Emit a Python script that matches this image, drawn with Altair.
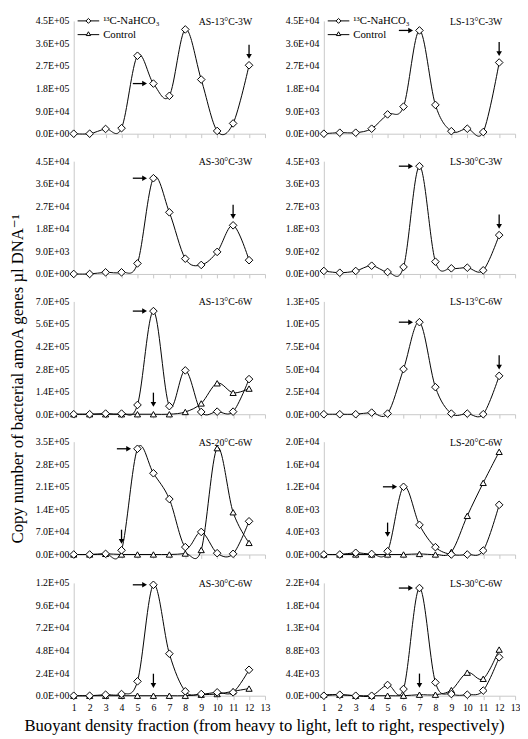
import altair as alt
import pandas as pd

FONT = "Liberation Serif, Times New Roman, DejaVu Serif, serif"
AXC = "#c8c8c8"
W, H = 195, 115

fractions = list(range(1, 13))
x_ticks = list(range(1, 14))

titles = ["AS-13°C-3W", "LS-13°C-3W", "AS-30°C-3W", "LS-30°C-3W", "AS-13°C-6W",
          "LS-13°C-6W", "AS-20°C-6W", "LS-20°C-6W", "AS-30°C-6W", "LS-30°C-6W"]
y_tops = [4.5e5, 4.5e4, 4.5e4, 4.5e3, 7.0e5, 1.25e5, 3.5e5, 2.0e4, 1.2e5, 2.2e4]

# 13C-NaHCO3 series (diamonds)
c13_as13_3w = [0, 0, 1.9e4, 2.2e4, 3.11e5, 2.0e5, 1.51e5, 4.16e5, 2.16e5, 1.1e4, 4.1e4, 2.73e5]
c13_ls13_3w = [0, 400, 400, 2.0e3, 7.7e3, 1.08e4, 4.12e4, 1.15e4, 1.0e3, 2.0e3, 650, 2.84e4]
c13_as30_3w = [0, 0, 650, 650, 4.2e3, 3.82e4, 2.46e4, 6.1e3, 3.6e3, 8.8e3, 1.94e4, 5.5e3]
c13_ls30_3w = [120, 50, 120, 330, 80, 280, 4.3e3, 490, 225, 250, 145, 1.55e3]
c13_as13_6w = [0, 0, 4e3, 4e3, 5.75e4, 6.4e5, 5.0e4, 2.72e5, 1.4e4, 1.6e4, 1.6e4, 2.18e5]
c13_ls13_6w = [0, 0, 0, 1.8e3, 700, 5.0e4, 1.02e5, 3.0e4, 700, 700, 0, 4.25e4]
c13_as20_6w = [0, 0, 2e3, 1.3e4, 3.28e5, 2.52e5, 1.72e5, 2.3e4, 7.0e4, 4e3, 2e3, 1.03e5]
c13_ls20_6w = [0, 0, 300, 100, 570, 1.2e4, 5.25e3, 1.3e3, 0, 0, 700, 8.8e3]
c13_as30_6w = [0, 0, 1.1e3, 1.8e3, 1.53e4, 1.18e5, 4.47e4, 4.7e3, 1.8e3, 3.6e3, 3.6e3, 2.76e4]
c13_ls30_6w = [0, 200, 0, 0, 2.1e3, 1.3e3, 2.1e4, 2.6e3, 330, 200, 1.0e3, 7.5e3]

# Control series (triangles)
ctrl_as13_6w = [0, 0, 0, 0, 0, 0, 0, 1.4e4, 6.7e4, 1.92e5, 1.33e5, 1.59e5]
ctrl_as20_6w = [0, 0, 2e3, 0, 0, 0, 0, 3e3, 1.4e4, 3.3e5, 1.31e5, 3.6e4]
ctrl_ls20_6w = [0, 0, 0, 0, 0, 0, 100, 0, 450, 6.85e3, 1.27e4, 1.82e4]
ctrl_as30_6w = [0, 0, 0, 0, 0, 0, 0, 0, 1.1e3, 1.8e3, 4.7e3, 7.6e3]
ctrl_ls30_6w = [200, 200, 0, 0, 0, 0, 200, 200, 1.1e3, 4.5e3, 3.3e3, 9.0e3]

c13_series = [c13_as13_3w, c13_ls13_3w, c13_as30_3w, c13_ls30_3w, c13_as13_6w,
              c13_ls13_6w, c13_as20_6w, c13_ls20_6w, c13_as30_6w, c13_ls30_6w]
ctrl_series = [None, None, None, None, ctrl_as13_6w,
               None, ctrl_as20_6w, ctrl_ls20_6w, ctrl_as30_6w, ctrl_ls30_6w]

# arrow targets
right_arrow_x = [6, 7, 6, 7, 6, 7, 5, 6, 6, 7]
right_arrow_y = [2.0e5, 4.12e4, 3.82e4, 4.3e3, 6.4e5, 1.02e5, 3.28e5, 1.2e4, 1.18e5, 2.1e4]
down_arrow_x = [12, 12, 11, 12, 6, 12, 4, 5, 6, 7]
down_arrow_y = [2.73e5, 2.84e4, 1.94e4, 1.55e3, 6e3, 4.25e4, 1.3e4, 2.0e3, 1.5e3, 300]

legend_labels = ["¹³C-NaHCO₃", "Control"]
LEXPR = "replace(replace(format(datum.value, '.1e'), 'e+', 'E+0'), 'e-', 'E-0')"
YTITLE = "Copy number of bacterial amoA genes µl DNA⁻¹"
XTITLE = "Buoyant density fraction (from heavy to light, left to right, respectively)"


def make_panel(i):
    top = y_tops[i]
    bottom = i >= 8
    xaxis = dict(values=x_ticks, labels=bottom, title=None, grid=False, tickSize=4,
                 tickColor=AXC, domainColor=AXC, labelFont=FONT, labelFontSize=10,
                 labelColor="black", labelFlush=False, labelOverlap=False, labelPadding=3)
    yaxis = dict(values=[top * k / 5 for k in range(6)], labelExpr=LEXPR, ticks=False,
                 grid=False, domainColor=AXC, labelFont=FONT, labelFontSize=10,
                 labelColor="black", labelPadding=5, labelFlush=False, labelOverlap=False,
                 title=None)
    xenc = alt.X("fraction:Q", scale=alt.Scale(domain=[1, 13], nice=False, zero=False),
                 axis=alt.Axis(**xaxis))
    yenc = alt.Y("value:Q", scale=alt.Scale(domain=[0, top], nice=False),
                 axis=alt.Axis(**yaxis))

    df13 = pd.DataFrame({"fraction": fractions, "value": c13_series[i]})
    layers = [
        alt.Chart(df13).mark_line(interpolate="cardinal", color="black", strokeWidth=1)
        .encode(x=xenc, y=yenc)
    ]
    if ctrl_series[i] is not None:
        dfc = pd.DataFrame({"fraction": fractions, "value": ctrl_series[i]})
        layers.append(alt.Chart(dfc).mark_line(interpolate="cardinal", color="black",
                                              strokeWidth=1).encode(x=xenc, y=yenc))
        layers.append(alt.Chart(dfc).mark_point(shape="triangle-up", filled=True, fill="white",
                                               stroke="black", strokeWidth=1, size=40,
                                               opacity=1).encode(x=xenc, y=yenc))
    layers.append(alt.Chart(df13).mark_point(shape="diamond", filled=True, fill="white",
                                            stroke="black", strokeWidth=1, size=60,
                                            opacity=1).encode(x=xenc, y=yenc))

    dfr = pd.DataFrame({"fraction": [right_arrow_x[i]], "value": [right_arrow_y[i]]})
    dfd = pd.DataFrame({"fraction": [down_arrow_x[i]], "value": [down_arrow_y[i]]})
    layers.append(alt.Chart(dfr).mark_rule(color="black", strokeWidth=1.3, xOffset=-21,
                                           x2Offset=-9)
                  .encode(x=xenc, x2=alt.X2("fraction"), y=yenc))
    layers.append(alt.Chart(dfr).mark_point(shape="triangle-right", filled=True, color="black",
                                            size=32, xOffset=-9, opacity=1)
                  .encode(x=xenc, y=yenc))
    layers.append(alt.Chart(dfd).mark_rule(color="black", strokeWidth=1.3, yOffset=-21,
                                           y2Offset=-9)
                  .encode(x=xenc, y=yenc, y2=alt.Y2("value")))
    layers.append(alt.Chart(dfd).mark_point(shape="triangle-down", filled=True, color="black",
                                            size=32, yOffset=-9, opacity=1)
                  .encode(x=xenc, y=yenc))

    dft = pd.DataFrame({"label": [titles[i]]})
    layers.append(alt.Chart(dft).mark_text(align="right", baseline="middle", font=FONT,
                                           fontSize=10, color="black")
                  .encode(x=alt.value(W - 13), y=alt.value(1), text="label:N"))

    if i < 2:
        dfl = pd.DataFrame({"label": legend_labels})
        ly = [0, 14]
        for k, lab in enumerate(legend_labels):
            one = dfl.iloc[[k]]
            layers.append(alt.Chart(one).mark_rule(color="black", strokeWidth=1)
                          .encode(x=alt.value(4), x2=alt.value(26), y=alt.value(ly[k])))
            layers.append(alt.Chart(one).mark_point(
                shape="diamond" if k == 0 else "triangle-up", filled=True, fill="white",
                stroke="black", strokeWidth=1, size=25 if k == 0 else 20, opacity=1)
                .encode(x=alt.value(15), y=alt.value(ly[k] - (0 if k == 0 else 1))))
            layers.append(alt.Chart(one).mark_text(align="left", baseline="middle", font=FONT,
                                                   fontSize=11, color="black")
                          .encode(x=alt.value(30), y=alt.value(ly[k]), text="label:N"))
    return alt.layer(*layers).properties(width=W, height=H)


panels = [make_panel(i) for i in range(10)]

grid = alt.concat(*panels, columns=2, spacing={"row": 17, "column": 15}, align="each")

ytitle_chart = (
    alt.Chart(pd.DataFrame({"label": [YTITLE]}))
    .mark_text(angle=270, align="center", baseline="middle", font=FONT, fontSize=17,
               color="black")
    .encode(x=alt.value(9), y=alt.value(365), text="label:N")
    .properties(width=20, height=680)
)

chart = (
    alt.hconcat(ytitle_chart, grid, spacing=6)
    .properties(
        title=alt.TitleParams(XTITLE, orient="bottom", anchor="middle", font=FONT,
                              fontSize=17, fontWeight="normal", color="black", offset=6),
        padding={"left": 0, "top": 0, "right": 0, "bottom": 0},
    )
    .configure_view(stroke=None)
)

chart.save("out.html", embed_options={"renderer": "svg", "actions": False})
